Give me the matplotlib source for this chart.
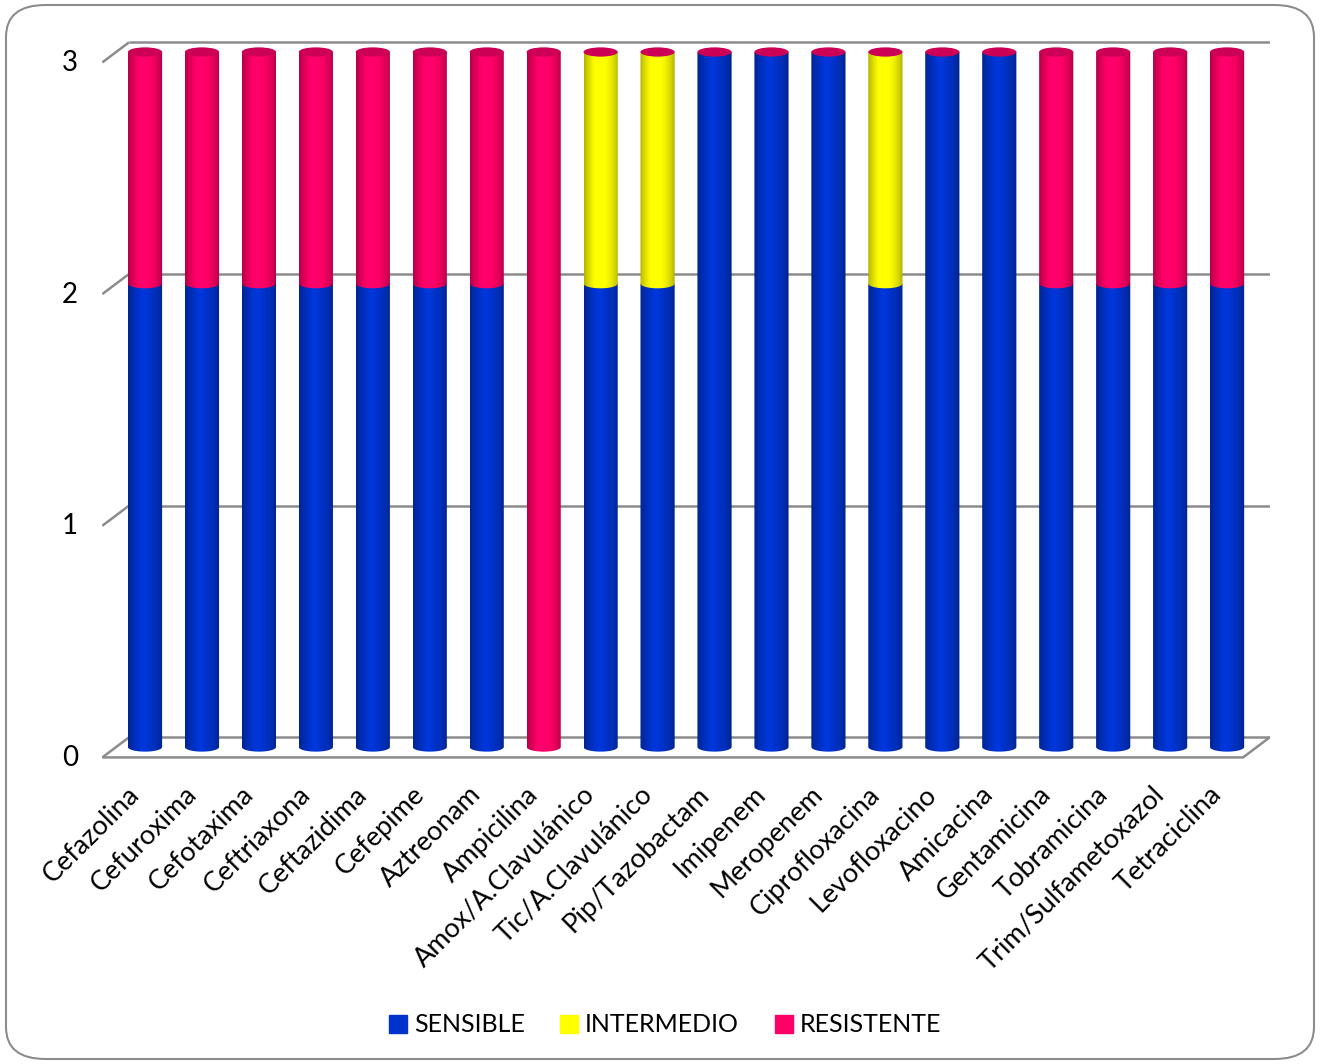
import numpy as np
import matplotlib
matplotlib.use("Agg")
import matplotlib.pyplot as plt
from matplotlib.colors import to_rgb
from matplotlib.path import Path
from matplotlib.patches import PathPatch, Ellipse, FancyBboxPatch
from matplotlib.lines import Line2D

plt.rcParams['font.family'] = ['Lato', 'DejaVu Sans']

# --- datos ---
antibioticos = ["Cefazolina", "Cefuroxima", "Cefotaxima", "Ceftriaxona", "Ceftazidima",
                "Cefepime", "Aztreonam", "Ampicilina", "Amox/A.Clavulánico",
                "Tic/A.Clavulánico", "Pip/Tazobactam", "Imipenem", "Meropenem",
                "Ciprofloxacina", "Levofloxacino", "Amicacina", "Gentamicina",
                "Tobramicina", "Trim/Sulfametoxazol", "Tetraciclina"]
sensible = [2, 2, 2, 2, 2, 2, 2, 0, 2, 2, 3, 3, 3, 2, 3, 3, 2, 2, 2, 2]
intermedio = [0, 0, 0, 0, 0, 0, 0, 0, 1, 1, 0, 0, 0, 1, 0, 0, 0, 0, 0, 0]
resistente = [1, 1, 1, 1, 1, 1, 1, 3, 0, 0, 0, 0, 0, 0, 0, 0, 1, 1, 1, 1]
series = ["SENSIBLE", "INTERMEDIO", "RESISTENTE"]
colores = ["#0033CC", "#FFFF00", "#FF0066"]
yticks = [0, 1, 2, 3]

W, H = 1321, 1064
fig = plt.figure(figsize=(W / 100, H / 100), dpi=100, facecolor="white")

# marco redondeado
fig.patches.append(FancyBboxPatch((6 / W, 5 / H), 1308 / W, 1054 / H,
                                  boxstyle="round,pad=0,rounding_size=0.03",
                                  transform=fig.transFigure, fc="none",
                                  ec="#8c8c8c", lw=1.5, zorder=-1))

ax = fig.add_axes([102.3 / W, 1 - 760.9 / H, (1269.8 - 102.3) / W, (760.9 - 38.1) / H])
ax.set_xlim(-0.75, 19.75)
ax.set_ylim(-0.06, 3.06)
ax.axis("off")

# pared 3D: desplazamientos de profundidad (en unidades de datos)
dx, dy_f, dy_b = 0.47, -0.045, 0.042
x_front0, x_back1 = -0.75, 19.75
grid_kw = dict(color="#8c8c8c", lw=1.8, zorder=1, solid_capstyle="butt")
for v in yticks:
    ax.plot([x_front0, x_front0 + dx], [v + dy_f, v + dy_b], **grid_kw)
    ax.plot([x_front0 + dx, x_back1], [v + dy_b, v + dy_b], **grid_kw)
    ax.text(-1.32, v - 0.048, str(v), ha="center", va="center", fontsize=20)
# borde frontal del piso
ax.plot([x_front0, x_back1 - dx, x_back1], [dy_f, dy_f, dy_b], **grid_kw)


def shade(base, n=64):
    r = np.array(to_rgb(base))
    t = np.linspace(0, 1, n)
    f = 0.6 + 0.4 * np.clip(np.sin(np.pi * (t * 0.95 + 0.03)), 0, 1) ** 0.6
    f = f + 0.08 * np.exp(-((t - 0.42) / 0.15) ** 2)
    img = np.clip(r[None, :] * f[:, None], 0, 1)
    return img[None, :, :]


bw = 0.6
eh = 0.04
th = np.linspace(np.pi, 2 * np.pi, 40)


def segment(x, y0, y1, color, z):
    xs = np.concatenate([[x - bw / 2], x + bw / 2 * np.cos(th), [x + bw / 2]])
    ys = np.concatenate([[y1], y0 + eh / 2 * np.sin(th), [y1]])
    verts = np.column_stack([xs, ys])
    path = Path(np.vstack([verts, verts[:1]]), closed=True)
    patch = PathPatch(path, fc="none", ec="none", transform=ax.transData)
    ax.add_patch(patch)
    im = ax.imshow(shade(color), extent=[x - bw / 2, x + bw / 2, y0 - eh, y1],
                   aspect="auto", zorder=z, interpolation="bilinear")
    im.set_clip_path(patch)


for i in range(len(antibioticos)):
    base = 0
    for k, vals in enumerate([sensible, intermedio, resistente]):
        v = vals[i]
        if v > 0:
            segment(i, base, base + v, colores[k], 2 + k * 0.1)
        base += v
    ax.add_patch(Ellipse((i, base), bw, eh, fc="#CC0055", ec="none", zorder=3))
    ax.text(i - 0.32, -0.15, antibioticos[i], rotation=45, rotation_mode="anchor",
            ha="right", va="top", fontsize=19.5)

ax.set_xlim(-0.75, 19.75)
ax.set_ylim(-0.06, 3.06)

handles = [Line2D([], [], marker="s", ls="none", color=c, markersize=12.5) for c in colores]
fig.legend(handles, series, loc="center", bbox_to_anchor=(665 / W, 1 - 1025 / H), ncol=3,
           frameon=False, fontsize=18, handletextpad=0.28, columnspacing=1.44,
           handlelength=0.7)

fig.savefig("out.png", dpi=100)
